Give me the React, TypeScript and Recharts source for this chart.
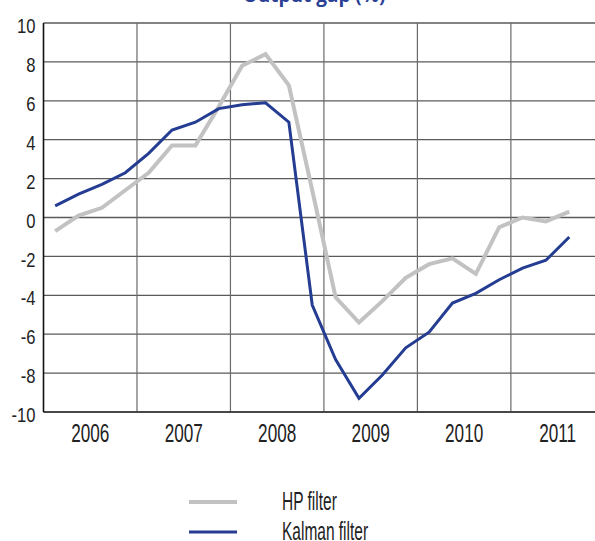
import React from 'react';
import { LineChart, Line, XAxis, YAxis, CartesianGrid, ReferenceLine, Legend } from 'recharts';

const quarters = [
  '2006Q1', '2006Q2', '2006Q3', '2006Q4',
  '2007Q1', '2007Q2', '2007Q3', '2007Q4',
  '2008Q1', '2008Q2', '2008Q3', '2008Q4',
  '2009Q1', '2009Q2', '2009Q3', '2009Q4',
  '2010Q1', '2010Q2', '2010Q3', '2010Q4',
  '2011Q1', '2011Q2', '2011Q3',
];
const hpFilter = [-0.7, 0.1, 0.5, 1.4, 2.3, 3.7, 3.7, 5.7, 7.8, 8.4, 6.8, 1.4, -4.1, -5.4, -4.3, -3.1, -2.4, -2.1, -2.9, -0.5, 0.0, -0.2, 0.3];
const kalmanFilter = [0.6, 1.2, 1.7, 2.3, 3.3, 4.5, 4.9, 5.6, 5.8, 5.9, 4.9, -4.5, -7.3, -9.3, -8.1, -6.7, -5.9, -4.4, -3.9, -3.2, -2.6, -2.2, -1.0];
const years = ['2006', '2007', '2008', '2009', '2010', '2011'];
const yTicks = [-10, -8, -6, -4, -2, 0, 2, 4, 6, 8, 10];

const data = quarters.map((q, i) => ({ q: i + 0.5, label: q, hp: hpFilter[i], kalman: kalmanFilter[i] }));
const yearCenters = years.map((_, i) => i * 4 + 2);
const yearBoundaries = years.slice(1).map((_, i) => (i + 1) * 4);

const GRAY = '#c2c2c2';
const BLUE = '#243d92';
const FONT = '"Liberation Sans", Arial, sans-serif';

const XTick = (props: any) => {
  const { x, y, payload } = props;
  const idx = yearCenters.indexOf(payload.value);
  return (
    <g transform={`translate(${x},${y + 30})`}>
      <text transform="scale(0.66,1)" textAnchor="middle" fill="#222" fontSize={26} fontFamily={FONT}>
        {idx >= 0 ? years[idx] : ''}
      </text>
    </g>
  );
};

const YTick = (props: any) => {
  const { x, y, payload } = props;
  return (
    <g transform={`translate(${x - 8},${y + 3})`}>
      <text transform="scale(0.83,1)" dy="0.355em" textAnchor="end" fill="#222" fontSize={20} fontFamily={FONT}>
        {payload.value}
      </text>
    </g>
  );
};

const LegendContent = () => (
  <svg width={595} height={53} style={{ display: 'block' }}>
    <line x1={189} x2={237} y1={14} y2={14} stroke={GRAY} strokeWidth={4} />
    <line x1={189} x2={237} y1={44} y2={44} stroke={BLUE} strokeWidth={3} />
    <g transform="translate(282,22)">
      <text transform="scale(0.62,1)" fontSize={25} fontFamily={FONT} fill="#222">HP filter</text>
    </g>
    <g transform="translate(282,52)">
      <text transform="scale(0.62,1)" fontSize={25} fontFamily={FONT} fill="#222">Kalman filter</text>
    </g>
  </svg>
);

export default function App() {
  return (
    <div style={{ position: 'absolute', left: 0, top: 0, width: 595, height: 541, overflow: 'hidden', background: '#fff' }}>
      <LineChart width={595} height={541} data={data} margin={{ top: 23, right: 0, bottom: 89, left: 0 }}>
        <CartesianGrid horizontal={true} vertical={false} stroke="#5a5a5a" strokeWidth={1.3} />
        {yearBoundaries.map((b) => (
          <ReferenceLine key={b} x={b} stroke="#6a6a6a" strokeWidth={1.2} ifOverflow="extendDomain" />
        ))}
        <XAxis
          dataKey="q"
          type="number"
          domain={[0, 23.6]}
          ticks={yearCenters}
          tick={<XTick />}
          tickLine={false}
          tickSize={0}
          tickMargin={0}
          axisLine={{ stroke: '#333', strokeWidth: 1.5 }}
          height={40}
          allowDataOverflow
        />
        <YAxis
          type="number"
          domain={[-10, 10]}
          ticks={yTicks}
          tick={<YTick />}
          tickLine={false}
          tickSize={0}
          tickMargin={0}
          axisLine={{ stroke: '#111', strokeWidth: 1.6 }}
          width={43.5}
          interval={0}
        />
        <Legend
          layout="horizontal"
          verticalAlign="middle"
          align="center"
          content={<LegendContent />}
          wrapperStyle={{ position: 'absolute', left: 0, top: 488, width: 595, height: 53 }}
        />
        <Line type="linear" dataKey="hp" name="HP filter" stroke={GRAY} strokeWidth={4} dot={false} isAnimationActive={false} />
        <Line type="linear" dataKey="kalman" name="Kalman filter" stroke={BLUE} strokeWidth={3} dot={false} isAnimationActive={false} />
      </LineChart>
      <svg width={595} height={20} style={{ position: 'absolute', left: 0, top: 0 }}>
        <text x={314} y={2} textAnchor="middle" fontSize={19} fontWeight="bold" fontFamily='"Open Sans", sans-serif' fill="#2a3f95">
          Output gap (%)
        </text>
      </svg>
    </div>
  );
}
